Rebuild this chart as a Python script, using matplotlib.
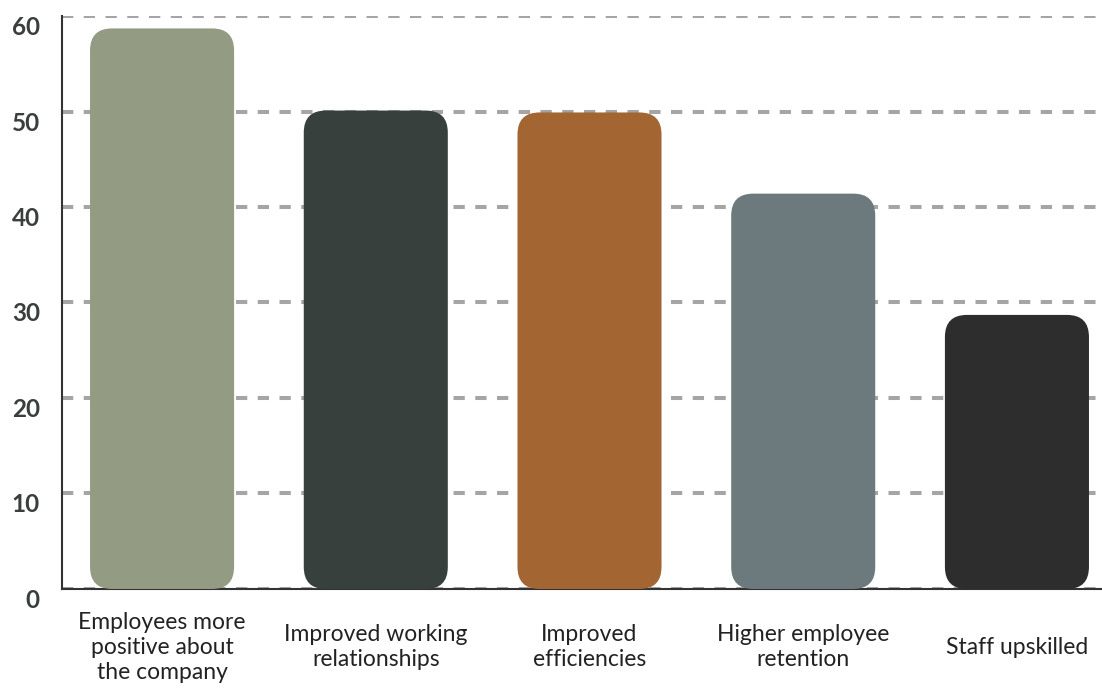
import matplotlib.pyplot as plt
from matplotlib.patches import FancyBboxPatch

# Data
categories = ["Employees more\npositive about\nthe company",
              "Improved working\nrelationships",
              "Improved\nefficiencies",
              "Higher employee\nretention",
              "Staff upskilled"]
values = [58.7, 50.1, 49.9, 41.4, 28.7]
colors = ["#939B83", "#37403C", "#A36532", "#6C7A7E", "#2D2D2D"]
yticks = [0, 10, 20, 30, 40, 50, 60]

plt.rcParams['font.family'] = ['Lato', 'DejaVu Sans']

fig = plt.figure(figsize=(11.02, 6.9), dpi=100)
ax = fig.add_axes([0.0563, 0.1464, 0.9437, 0.8304])

x = list(range(len(categories)))
bars = ax.bar(x, values, width=0.674, color=colors, zorder=3)

# swap the plain rectangles for rounded ones
for rect, c in zip(bars, colors):
    bx, by = rect.get_x(), rect.get_y()
    bw, bh = rect.get_width(), rect.get_height()
    rect.remove()
    rp = FancyBboxPatch((bx, by), bw, bh,
                        boxstyle="round,pad=0,rounding_size=0.103",
                        mutation_aspect=22.4, facecolor=c,
                        edgecolor="none", zorder=3)
    ax.add_patch(rp)

ax.set_xlim(-0.468, 4.398)
ax.set_ylim(0, 60)
ax.set_yticks(yticks)
ax.set_yticklabels([str(v) for v in yticks], fontsize=17.5, fontweight="bold",
                   color="#3A3F3E", va="top")
ax.set_xticks(x)
ax.set_xticklabels(categories, fontsize=16.5, color="#222222",
                   va="center", linespacing=1.22)

ax.tick_params(axis="both", length=0)
ax.tick_params(axis="y", pad=16)
ax.tick_params(axis="x", pad=42)

ax.yaxis.grid(True, color="#A5A5A5", linestyle=(0, (2.8, 2.6)), linewidth=2.9, zorder=0)
ax.set_axisbelow(True)
for s in ["top", "right"]:
    ax.spines[s].set_visible(False)
ax.spines["left"].set_color("#333333")
ax.spines["bottom"].set_color("#333333")
ax.spines["left"].set_linewidth(1.5)
ax.spines["bottom"].set_linewidth(1.5)

fig.savefig("out.png", dpi=100)
